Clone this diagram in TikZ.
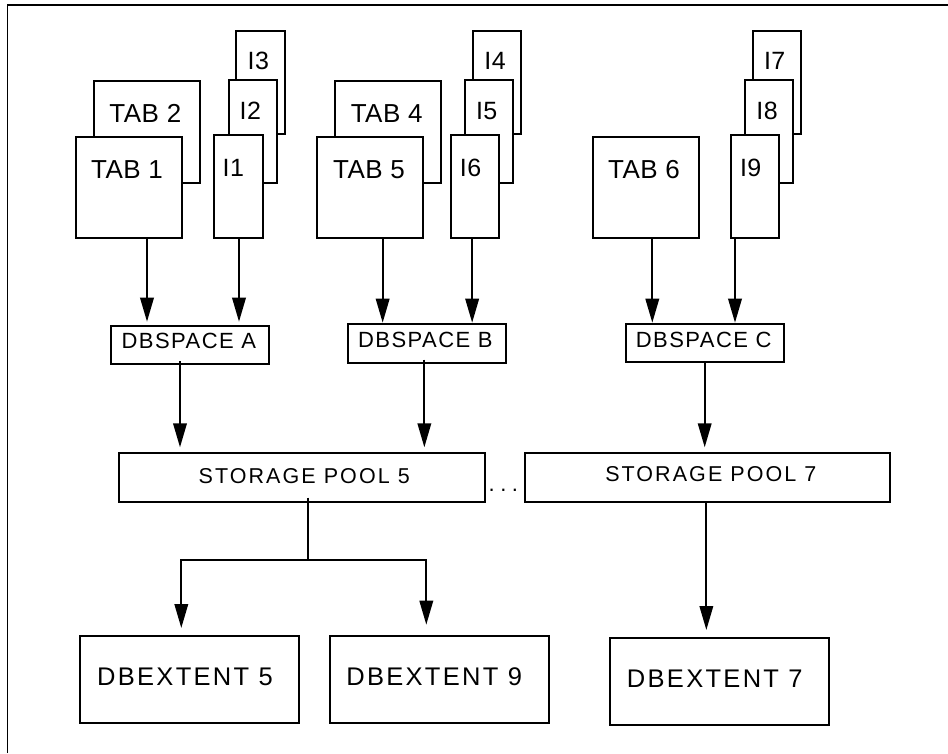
\documentclass[tikz,border=0pt]{standalone}
\usepackage{fontspec}
\setmainfont{Liberation Sans}
\newfontfamily\tabfont[LetterSpace=2]{Liberation Sans}
\newfontfamily\dbsfont[LetterSpace=6.6]{Liberation Sans}
\newfontfamily\poolfont[LetterSpace=9.6]{Liberation Sans}
\newfontfamily\extfont[LetterSpace=9]{Liberation Sans}
\usetikzlibrary{arrows.meta,fit}
\begin{document}
\begin{tikzpicture}[x=1pt,y=-1pt,
  box/.style={draw, line width=2pt, fill=white, inner sep=0pt},
  lbl/.style={inner sep=0pt, text height=0.716em, text depth=0pt, anchor=center},
  tabtxt/.style={lbl, font=\tabfont\fontsize{26}{26}\selectfont},
  idxtxt/.style={lbl, font=\tabfont\fontsize{25}{25}\selectfont},
  dbstxt/.style={lbl, font=\dbsfont\fontsize{22}{22}\selectfont},
  pooltxt/.style={lbl, font=\poolfont\fontsize{21.5}{21.5}\selectfont},
  exttxt/.style={lbl, font=\extfont\fontsize{25.5}{25.5}\selectfont},
  conn/.style={line width=2pt},
  arr/.style={conn, -{Triangle[length=24pt,width=13.5pt]}},
  frameline/.style={line width=1.3pt}
]
\useasboundingbox (0,0) rectangle (948,753);
% frame
\coordinate (fBL) at (7.3,753);
\coordinate (fTL) at (7.3,5);
\coordinate (fTR) at (948,5);
\draw[frameline] (fBL) -- (fTL) -- (fTR);

% group 1
\node[box, fit={(94.3,80.7) (200.3,182.7)}] (tab2) {};
\node[box, fit={(76,136.7) (182,238.3)}] (tab1) {};
\node[box, fit={(236.3,31.3) (284.7,134)}] (i3) {};
\node[box, fit={(228.7,80.3) (276.7,183)}] (i2) {};
\node[box, fit={(214.3,135) (262.7,238)}] (i1) {};
% group 2
\node[box, fit={(335.3,80.7) (441,182.7)}] (tab4) {};
\node[box, fit={(317,136.7) (423.3,238.3)}] (tab5) {};
\node[box, fit={(473,31.3) (521.3,134)}] (i4) {};
\node[box, fit={(465.3,80) (513.3,183)}] (i5) {};
\node[box, fit={(451,135) (499.3,238)}] (i6) {};
% group 3
\node[box, fit={(592.7,136.7) (698.7,238.3)}] (tab6) {};
\node[box, fit={(753,31.3) (801.3,134)}] (i7) {};
\node[box, fit={(744.7,80) (793,183)}] (i8) {};
\node[box, fit={(730.7,135) (779,238)}] (i9) {};
% dbspaces
\node[box, fit={(111,325.7) (269,364)}] (dsa) {};
\node[box, fit={(347.7,323.7) (506,362.7)}] (dsb) {};
\node[box, fit={(625.7,323.7) (783.7,362)}] (dsc) {};
% pools
\node[box, fit={(119,453.3) (485,502.3)}] (p5) {};
\node[box, fit={(525,453.3) (890.3,501.7)}] (p7) {};
% extents
\node[box, fit={(80.3,635.7) (298.7,723.3)}] (e5) {};
\node[box, fit={(329.7,635.7) (548.7,723.3)}] (e9) {};
\node[box, fit={(610.3,637.7) (829.3,725)}] (e7) {};

% labels
\node[tabtxt] (tab2t) at (145.3,119.2) {TAB 2};
\node[tabtxt] (tab1t) at (127,175) {TAB 1};
\node[idxtxt] (i3t) at (258.3,66.2) {I3};
\node[idxtxt] (i2t) at (250.3,115.8) {I2};
\node[idxtxt] (i1t) at (233.3,173) {I1};
\node[tabtxt] (tab4t) at (386.7,119.2) {TAB 4};
\node[tabtxt] (tab5t) at (369,175) {TAB 5};
\node[idxtxt] (i4t) at (495,66.2) {I4};
\node[idxtxt] (i5t) at (486.7,115.8) {I5};
\node[idxtxt] (i6t) at (470.5,173) {I6};
\node[tabtxt] (tab6t) at (644,174.5) {TAB 6};
\node[idxtxt] (i7t) at (774.7,66.2) {I7};
\node[idxtxt] (i8t) at (767,115.8) {I8};
\node[idxtxt] (i9t) at (750.7,173) {I9};
\node[dbstxt] (dsat) at (188.8,345.3) {DBSPACE A};
\node[dbstxt] (dsbt) at (425.3,344.2) {DBSPACE B};
\node[dbstxt] (dsct) at (703.7,344.3) {DBSPACE C};
\node[pooltxt] (p5t) at (304.2,479.5) {STORAGE POOL 5};
\node[pooltxt] (p7t) at (710.8,477.5) {STORAGE POOL 7};
\node[exttxt] (e5t) at (185,681.7) {DBEXTENT 5};
\node[exttxt] (e9t) at (434.2,681.7) {DBEXTENT 9};
\node[exttxt] (e7t) at (714.8,683.7) {DBEXTENT 7};
\node[inner sep=0pt, anchor=base, font=\fontsize{22}{22}\selectfont] (dots) at (503.3,491.5) {.\hspace{5.5pt}.\hspace{5.5pt}.};

% connectors: tables/indexes -> dbspaces
\draw[arr, shorten >=3pt] ([xshift=18pt]tab1.south) -- ([xshift=18pt]tab1.south |- dsa.north);
\draw[arr, shorten >=3pt] ([xshift=0.5pt]i1.south) -- ([xshift=0.5pt]i1.south |- dsa.north);
\draw[arr] ([xshift=12.5pt]tab5.south) -- ([xshift=12.5pt]tab5.south |- dsb.north);
\draw[arr] ([xshift=-3pt]i6.south) -- ([xshift=-3pt]i6.south |- dsb.north);
\draw[arr] ([xshift=6.6pt]tab6.south) -- ([xshift=6.6pt]tab6.south |- dsc.north);
\draw[arr] ([xshift=-19.85pt]i9.south) -- ([xshift=-19.85pt]i9.south |- dsc.north);
% dbspaces -> pools
\draw[arr, shorten >=5pt] ([xshift=-10pt,yshift=4pt]dsa.south) -- ([xshift=-10pt]dsa.south |- p5.north);
\draw[arr, shorten >=5pt] ([xshift=-2.5pt,yshift=4pt]dsb.south) -- ([xshift=-2.5pt]dsb.south |- p5.north);
\draw[arr, shorten >=5pt] ([yshift=2pt]dsc.south) -- (dsc.south |- p7.north);
% pools -> extents
\coordinate (j5) at (308.3,560);
\draw[conn] ([xshift=6.3pt,yshift=5.6pt]p5.south) -- (j5);
\draw[arr, shorten >=6.7pt] (j5) -| ([xshift=-8.2pt]e5.north);
\draw[arr, shorten >=10pt] (j5) -| ([xshift=-12.9pt]e9.north);
\draw[arr, shorten >=6.7pt] ([xshift=-1.3pt,yshift=1.7pt]p7.south) -- ([xshift=-1.3pt]p7.south |- e7.north);
\end{tikzpicture}
\end{document}
